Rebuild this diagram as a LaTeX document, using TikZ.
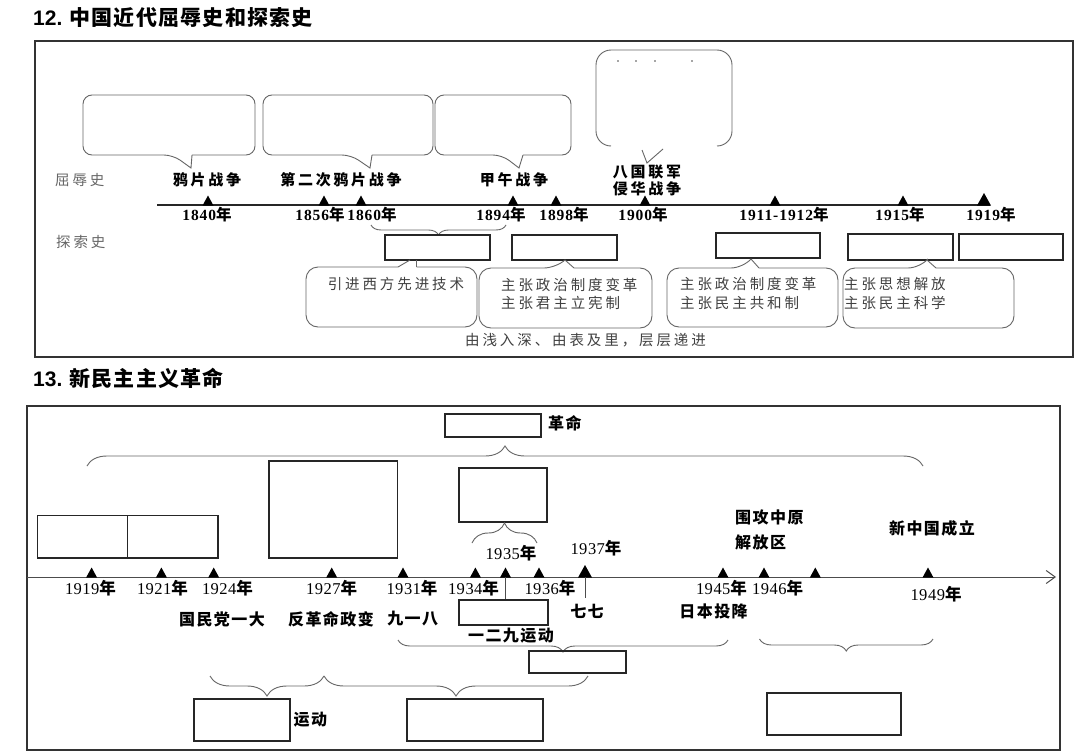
\documentclass[tikz,border=0pt]{standalone}
\usepackage{fontspec}
\setmainfont{Liberation Serif}
\newfontfamily\tnum{Liberation Sans}
\newfontfamily\cjkT{Noto Sans CJK SC}[LetterSpace=6]
\newfontfamily\cjkS{Noto Sans CJK SC}[LetterSpace=20]
\newfontfamily\cjkL{Noto Sans CJK SC}[LetterSpace=18]
\newfontfamily\cjkM{Noto Sans CJK SC}[LetterSpace=9]
\newfontfamily\cjkY{Noto Sans CJK SC}
\newfontfamily\yrA{Liberation Serif}[LetterSpace=6]
\newfontfamily\yrB{Liberation Serif}[LetterSpace=3]
\usetikzlibrary{decorations.pathreplacing,arrows.meta}
\newcommand\yra[1]{{\yrA\bfseries #1}{\cjkY\bfseries 年}}
\newcommand\yrb[1]{{\yrB #1}{\cjkY\bfseries 年}}
\newcommand\abox[5]{\node[ans, minimum width={(#4-#2)*1pt}, minimum height={(#5-#3)*1pt}] (#1) at ({(#2+#4)/2},{(#3+#5)/2}) {};}
\begin{document}
\begin{tikzpicture}[x=1pt,y=-1pt,
  frm/.style={draw=black!80, line width=1.6pt},
  cbox/.style={draw=black!60, line width=0.9pt},
  ans/.style={draw=black!85, line width=1.4pt, inner sep=0pt},
  axl/.style={draw=black!85, line width=1.3pt},
  brc/.style={draw=black!60, line width=0.9pt, decorate, decoration={brace, amplitude=#1}},
  brcm/.style={draw=black!60, line width=0.9pt, decorate, decoration={brace, mirror, amplitude=#1}},
  tri/.pic={\fill[black] (-5.5,0.6) -- (5.5,0.6) -- (0,-9.5) -- cycle;},
  bigtri/.pic={\fill[black] (-7,0.6) -- (7,0.6) -- (0,-12) -- cycle;},
  ttl/.style={inner sep=0pt, anchor=west, font=\fontsize{21}{23}\selectfont\bfseries},
  lblA/.style={inner sep=0pt, font=\fontsize{15}{17}\selectfont\cjkL\bfseries},
  grA/.style={inner sep=0pt, text=black!60, font=\fontsize{14.5}{16}\selectfont\cjkS},
  txA/.style={inner sep=0pt, anchor=west, text=black!75, font=\fontsize{14.5}{16}\selectfont\cjkS},
  yA/.style={inner sep=0pt, font=\fontsize{15.5}{17}\selectfont},
  yB/.style={inner sep=0pt, font=\fontsize{16.5}{18}\selectfont},
  lblB/.style={inner sep=0pt, font=\fontsize{16}{18}\selectfont\cjkM\bfseries}
]
\fill[white] (0,0) rectangle (1080,755);
\useasboundingbox (0,0) rectangle (1080,755);

% ---------------- Part 12 ----------------
\node[ttl] (t12) at (33,18) {{\tnum 12.} {\cjkT 中国近代屈辱史和探索史}};
\draw[frm] (35,41) rectangle (1073,357);

% upper callouts
\draw[cbox, rounded corners=9pt] (192,155) -- (255,155) -- (255,95) -- (83,95) -- (83,155) -- (173,155) [sharp corners] -- (191,168) -- (192,155);
\draw[cbox, rounded corners=9pt] (372,155) -- (433,155) -- (433,95) -- (263,95) -- (263,155) -- (351,155) [sharp corners] -- (370,168) -- (372,155);
\draw[cbox, rounded corners=9pt] (523,155) -- (571,155) -- (571,95) -- (435,95) -- (435,155) -- (502,155) [sharp corners] -- (519,168) -- (523,155);
\draw[cbox, rounded corners=15pt] (611,146) -- (596,146) -- (596,50) -- (732,50) -- (732,146) -- (717,146);
\draw[cbox] (642,150) -- (647,163) -- (663,149);
\foreach \dx in {618,636,655,692} \fill[black!70] (\dx,61) circle (0.9);

% labels above axis
\node[grA, anchor=west] (qrs) at (55,180) {屈辱史};
\node[lblA] (w1) at (207,180) {鸦片战争};
\node[lblA] (w2) at (341,180) {第二次鸦片战争};
\node[lblA] (w3) at (514,180) {甲午战争};
\node[lblA] (w4a) at (647,172) {八国联军};
\node[lblA] (w4b) at (647,189) {侵华战争};

% axis
\draw[axl] (157,205) -- (990,205);
\foreach \tx in {208,324,361,513,556,645,775,903} \pic at (\tx,205) {tri};
\pic at (984,205) {bigtri};
\node[yA] (y1840) at (207,215) {\yra{1840}};
\node[yA] (y1856) at (320,215) {\yra{1856}};
\node[yA] (y1860) at (372,215) {\yra{1860}};
\node[yA] (y1894) at (501,215) {\yra{1894}};
\node[yA] (y1898) at (564,215) {\yra{1898}};
\node[yA] (y1900) at (643,215) {\yra{1900}};
\node[yA] (y1911) at (784,215) {\yra{1911-1912}};
\node[yA] (y1915) at (900,215) {\yra{1915}};
\node[yA] (y1919) at (991,215) {\yra{1919}};

% exploration row
\node[grA, anchor=west] (tss) at (56,242) {探索史};
\draw[brcm=10pt] (371,225) -- (506,225);
\abox{bA}{385}{235}{490}{260}
\abox{bB}{512}{235}{617}{260}
\abox{bC}{716}{233}{820}{258}
\abox{bD}{848}{234}{953}{260}
\abox{bE}{959}{234}{1063}{260}

% lower callouts
\draw[cbox, rounded corners=12pt] (416.5,267) -- (477,267) -- (477,327) -- (306,327) -- (306,267) -- (398,267);
\draw[cbox] (398,267) -- (410,260);
\draw[cbox] (416.5,260) -- (416.5,267);
\draw[cbox, rounded corners=12pt] (574,268) -- (652,268) -- (652,328) -- (479,328) -- (479,268) -- (556,268) [sharp corners] -- (565,260) -- (574,268);
\draw[cbox, rounded corners=12pt] (759,268) -- (838,268) -- (838,327) -- (667,327) -- (667,268) -- (743,268) [sharp corners] -- (751,259) -- (759,268);
\draw[cbox, rounded corners=12pt] (936,268) -- (1014,268) -- (1014,328) -- (843,328) -- (843,268) -- (920,268) [sharp corners] -- (927,260) -- (936,268);

\node[txA] (c1) at (327.6,284) {引进西方先进技术};
\node[txA] (c2a) at (501,285) {主张政治制度变革};
\node[txA] (c2b) at (501,303) {主张君主立宪制};
\node[txA] (c3a) at (680,284) {主张政治制度变革};
\node[txA] (c3b) at (680,303) {主张民主共和制};
\node[txA] (c4a) at (844,284) {主张思想解放};
\node[txA] (c4b) at (844,303) {主张民主科学};
\node[txA] (prog) at (465,340) {由浅入深、由表及里，层层递进};

% ---------------- Part 13 ----------------
\node[ttl] (t13) at (33,378) {{\tnum 13.} {\cjkT 新民主主义革命}};
\draw[frm] (27,406) rectangle (1060,750);

\abox{rG}{445}{414}{541}{437}
\node[lblB, anchor=west] (gm) at (548,423) {革命};
\draw[brc=20pt] (87,466) -- (923,466);

\abox{p1}{37.6}{515.6}{127.2}{558}
\abox{p2}{127.2}{515.6}{217.8}{558}
\abox{big}{269}{461}{397.4}{558}
\abox{b35}{459}{468}{547}{522}
\draw[brc=20pt] (472,543) -- (537,543);
\node[yB] (y1935) at (511,553.5) {\yrb{1935}};
\node[yB] (y1937) at (596,548.5) {\yrb{1937}};
\node[lblB, anchor=west] (wg1) at (735,517) {围攻中原};
\node[lblB, anchor=west] (wg2) at (735,542) {解放区};
\node[lblB] (xzg) at (932,528) {新中国成立};

% axis 2
\draw[draw=black!70, line width=1pt, -{Straight Barb[length=9pt,width=13pt]}] (27,577) -- (1056,577);
\foreach \tx in {91.6,161.4,213.7,331.7,403,475.4,505.5,539,723,764,815.3,928} \pic at (\tx,577) {tri};
\pic at (585,577) {bigtri};
\draw[draw=black!70, line width=1pt] (505.5,577) -- (505.5,600);
\draw[draw=black!70, line width=1pt] (585,577) -- (585,598);

\node[yB] (z1919) at (90.5,588) {\yrb{1919}};
\node[yB] (z1921) at (162.5,588) {\yrb{1921}};
\node[yB] (z1924) at (227.5,588) {\yrb{1924}};
\node[yB] (z1927) at (331.7,588) {\yrb{1927}};
\node[yB] (z1931) at (412,588) {\yrb{1931}};
\node[yB] (z1934) at (473.5,588) {\yrb{1934}};
\node[yB] (z1936) at (550,588) {\yrb{1936}};
\node[yB] (z1945) at (721.5,588) {\yrb{1945}};
\node[yB] (z1946) at (777.7,588) {\yrb{1946}};
\node[yB] (z1949) at (936,594) {\yrb{1949}};

\node[lblB] (gmd) at (222,619) {国民党一大};
\node[lblB] (fgm) at (331,619) {反革命政变};
\node[lblB] (jyb) at (412.7,619) {九一八};
\node[lblB] (qq) at (587,611) {七七};
\node[lblB] (rbtx) at (713.6,611) {日本投降};
\abox{b129}{459}{600}{548}{625}
\node[lblB] (y129) at (511,636) {一二九运动};

\draw[brcm=12pt] (398,640) -- (728,640);
\abox{bk}{529}{651}{626}{673}
\draw[brcm=12pt] (759.5,639) -- (933,639);

\draw[brcm=20pt] (210,676) -- (324,676);
\draw[brcm=20pt] (324,676) -- (588,676);
\abox{bY}{194}{699}{290}{741}
\node[lblB, anchor=west] (yd) at (293.4,720) {运动};
\abox{bM}{407}{699}{543}{741}
\abox{bR}{767}{693}{901}{735}
\end{tikzpicture}
\end{document}
